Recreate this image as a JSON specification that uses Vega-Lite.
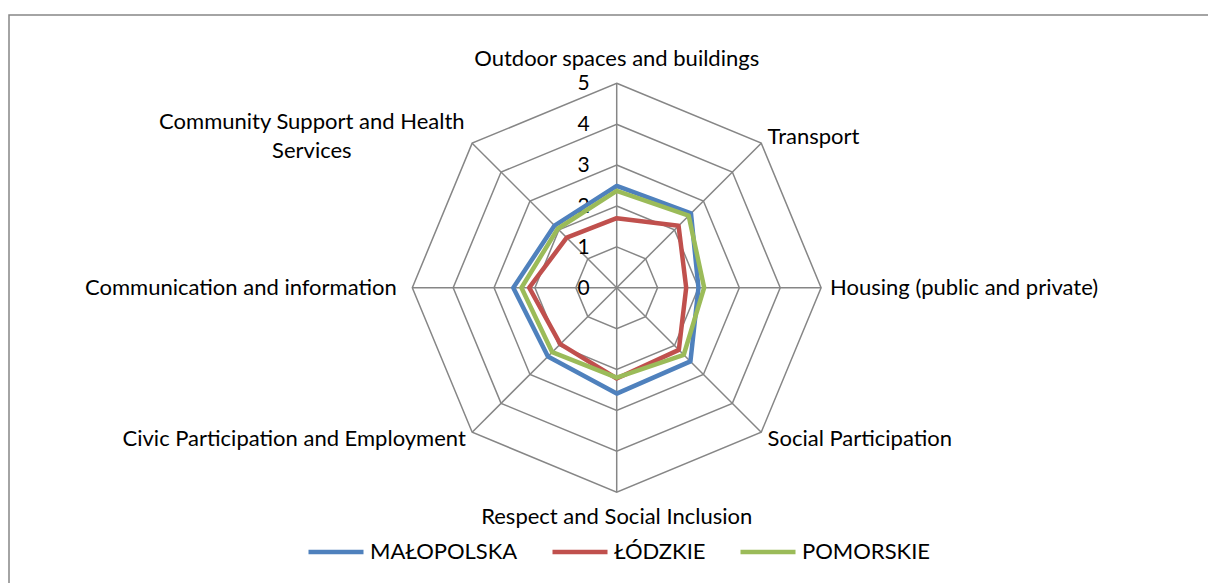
{
  "$schema": "https://vega.github.io/schema/vega-lite/v6.json",
  "width": 1202,
  "height": 571,
  "autosize": {"type": "none"},
  "padding": {"left": 9, "top": 15, "right": -3, "bottom": -3},
  "background": "white",
  "config": {
    "view": {"stroke": "#868686", "strokeWidth": 1.5},
    "font": "Lato",
    "text": {"font": "Lato", "fontSize": 22, "color": "#000000"}
  },
  "datasets": {
    "axes": [
      {"i": 0, "cat": "Outdoor spaces and buildings"},
      {"i": 1, "cat": "Transport"},
      {"i": 2, "cat": "Housing (public and private)"},
      {"i": 3, "cat": "Social Participation"},
      {"i": 4, "cat": "Respect and Social Inclusion"},
      {"i": 5, "cat": "Civic Participation and Employment"},
      {"i": 6, "cat": "Communication and information"},
      {"i": 7, "cat": "Community Support and Health Services"}
    ],
    "levels": [
      {"level": 0, "i": [0, 1, 2, 3, 4, 5, 6, 7]},
      {"level": 1, "i": [0, 1, 2, 3, 4, 5, 6, 7]},
      {"level": 2, "i": [0, 1, 2, 3, 4, 5, 6, 7]},
      {"level": 3, "i": [0, 1, 2, 3, 4, 5, 6, 7]},
      {"level": 4, "i": [0, 1, 2, 3, 4, 5, 6, 7]},
      {"level": 5, "i": [0, 1, 2, 3, 4, 5, 6, 7]}
    ],
    "scores": [
      {"series": "MAŁOPOLSKA", "cat": "Outdoor spaces and buildings", "value": 2.49},
      {"series": "MAŁOPOLSKA", "cat": "Transport", "value": 2.57},
      {"series": "MAŁOPOLSKA", "cat": "Housing (public and private)", "value": 2.0},
      {"series": "MAŁOPOLSKA", "cat": "Social Participation", "value": 2.55},
      {"series": "MAŁOPOLSKA", "cat": "Respect and Social Inclusion", "value": 2.59},
      {"series": "MAŁOPOLSKA", "cat": "Civic Participation and Employment", "value": 2.38},
      {"series": "MAŁOPOLSKA", "cat": "Communication and information", "value": 2.53},
      {"series": "MAŁOPOLSKA", "cat": "Community Support and Health Services", "value": 2.15},
      {"series": "ŁÓDZKIE", "cat": "Outdoor spaces and buildings", "value": 1.7},
      {"series": "ŁÓDZKIE", "cat": "Transport", "value": 2.14},
      {"series": "ŁÓDZKIE", "cat": "Housing (public and private)", "value": 1.7},
      {"series": "ŁÓDZKIE", "cat": "Social Participation", "value": 2.15},
      {"series": "ŁÓDZKIE", "cat": "Respect and Social Inclusion", "value": 2.22},
      {"series": "ŁÓDZKIE", "cat": "Civic Participation and Employment", "value": 1.95},
      {"series": "ŁÓDZKIE", "cat": "Communication and information", "value": 2.14},
      {"series": "ŁÓDZKIE", "cat": "Community Support and Health Services", "value": 1.73},
      {"series": "POMORSKIE", "cat": "Outdoor spaces and buildings", "value": 2.37},
      {"series": "POMORSKIE", "cat": "Transport", "value": 2.49},
      {"series": "POMORSKIE", "cat": "Housing (public and private)", "value": 2.14},
      {"series": "POMORSKIE", "cat": "Social Participation", "value": 2.32},
      {"series": "POMORSKIE", "cat": "Respect and Social Inclusion", "value": 2.2},
      {"series": "POMORSKIE", "cat": "Civic Participation and Employment", "value": 2.23},
      {"series": "POMORSKIE", "cat": "Communication and information", "value": 2.33},
      {"series": "POMORSKIE", "cat": "Community Support and Health Services", "value": 2.04}
    ]
  },
  "encoding": {
    "x": {"field": "x", "type": "quantitative", "axis": null, "scale": {"domain": [-14.866, 14.538], "nice": false, "zero": false}},
    "y": {"field": "y", "type": "quantitative", "axis": null, "scale": {"domain": [-7.297, 6.671], "nice": false, "zero": false}}
  },
  "layer": [
    {
      "data": {"name": "levels"},
      "transform": [
        {"filter": "datum.level > 0"},
        {"flatten": ["i"]},
        {"calculate": "datum.level * sin(datum.i * PI / 4)", "as": "x"},
        {"calculate": "datum.level * cos(datum.i * PI / 4)", "as": "y"}
      ],
      "mark": {"type": "line", "interpolate": "linear-closed", "color": "#868686", "strokeWidth": 1.5},
      "encoding": {
        "detail": {"field": "level", "type": "nominal"},
        "order": {"field": "i", "type": "quantitative"}
      }
    },
    {
      "data": {"name": "axes"},
      "transform": [
        {"calculate": "5 * sin(datum.i * PI / 4)", "as": "x"},
        {"calculate": "5 * cos(datum.i * PI / 4)", "as": "y"}
      ],
      "mark": {"type": "rule", "color": "#868686", "strokeWidth": 1.5},
      "encoding": {
        "x2": {"datum": 0},
        "y2": {"datum": 0}
      }
    },
    {
      "data": {"name": "levels"},
      "transform": [
        {"calculate": "0", "as": "x"},
        {"calculate": "datum.level", "as": "y"}
      ],
      "mark": {"type": "text", "align": "right", "baseline": "middle", "dx": -27, "dy": 1, "fontSize": 21},
      "encoding": {"text": {"field": "level", "type": "nominal"}}
    },
    {
      "data": {"name": "scores"},
      "transform": [
        {"lookup": "cat", "from": {"data": {"name": "axes"}, "key": "cat", "fields": ["i"]}},
        {"calculate": "datum.value * sin(datum.i * PI / 4)", "as": "x"},
        {"calculate": "datum.value * cos(datum.i * PI / 4)", "as": "y"}
      ],
      "mark": {"type": "line", "interpolate": "linear-closed", "strokeWidth": 4.5, "strokeJoin": "round"},
      "encoding": {
        "color": {
          "field": "series",
          "type": "nominal",
          "sort": null,
          "scale": {"domain": ["MAŁOPOLSKA", "ŁÓDZKIE", "POMORSKIE"], "range": ["#4F81BD", "#C0504D", "#9BBB59"]},
          "legend": {
            "title": null,
            "orient": "none",
            "direction": "horizontal",
            "legendX": 297,
            "legendY": 507,
            "symbolType": "stroke",
            "symbolSize": 3025,
            "symbolStrokeWidth": 4.5,
            "labelFont": "Lato",
            "labelFontSize": 22,
            "labelColor": "#000000",
            "labelOffset": 4,
            "columnPadding": 25
          }
        },
        "order": {"field": "i", "type": "quantitative"}
      }
    },
    {
      "data": {"name": "axes"},
      "transform": [
        {"filter": "datum.i == 0 || datum.i == 4"},
        {"calculate": "5.6 * sin(datum.i * PI / 4)", "as": "x"},
        {"calculate": "5.6 * cos(datum.i * PI / 4)", "as": "y"}
      ],
      "mark": {"type": "text", "align": "center", "baseline": "middle"},
      "encoding": {"text": {"field": "cat", "type": "nominal"}}
    },
    {
      "data": {"name": "axes"},
      "transform": [
        {"filter": "datum.i >= 1 && datum.i <= 3"},
        {"calculate": "5.22 * sin(datum.i * PI / 4)", "as": "x"},
        {"calculate": "5.22 * cos(datum.i * PI / 4)", "as": "y"}
      ],
      "mark": {"type": "text", "align": "left", "baseline": "middle"},
      "encoding": {"text": {"field": "cat", "type": "nominal"}}
    },
    {
      "data": {"name": "axes"},
      "transform": [
        {"filter": "datum.i == 5"},
        {"calculate": "5.22 * sin(datum.i * PI / 4)", "as": "x"},
        {"calculate": "5.22 * cos(datum.i * PI / 4)", "as": "y"}
      ],
      "mark": {"type": "text", "align": "right", "baseline": "middle"},
      "encoding": {"text": {"field": "cat", "type": "nominal"}}
    },
    {
      "data": {"name": "axes"},
      "transform": [
        {"filter": "datum.i == 6"},
        {"calculate": "5.38 * sin(datum.i * PI / 4)", "as": "x"},
        {"calculate": "5.38 * cos(datum.i * PI / 4)", "as": "y"}
      ],
      "mark": {"type": "text", "align": "right", "baseline": "middle"},
      "encoding": {"text": {"field": "cat", "type": "nominal"}}
    },
    {
      "data": {"name": "axes"},
      "transform": [
        {"filter": "datum.i == 7"},
        {"calculate": "replace(datum.cat, 'Health ', 'Health\\n')", "as": "label"},
        {"calculate": "5.22 * sin(datum.i * PI / 4)", "as": "x"},
        {"calculate": "5.22 * cos(datum.i * PI / 4)", "as": "y"}
      ],
      "mark": {"type": "text", "align": "center", "baseline": "middle", "lineBreak": "\n", "lineHeight": 29, "dx": -154, "dy": -14.5},
      "encoding": {"text": {"field": "label", "type": "nominal"}}
    }
  ]
}
